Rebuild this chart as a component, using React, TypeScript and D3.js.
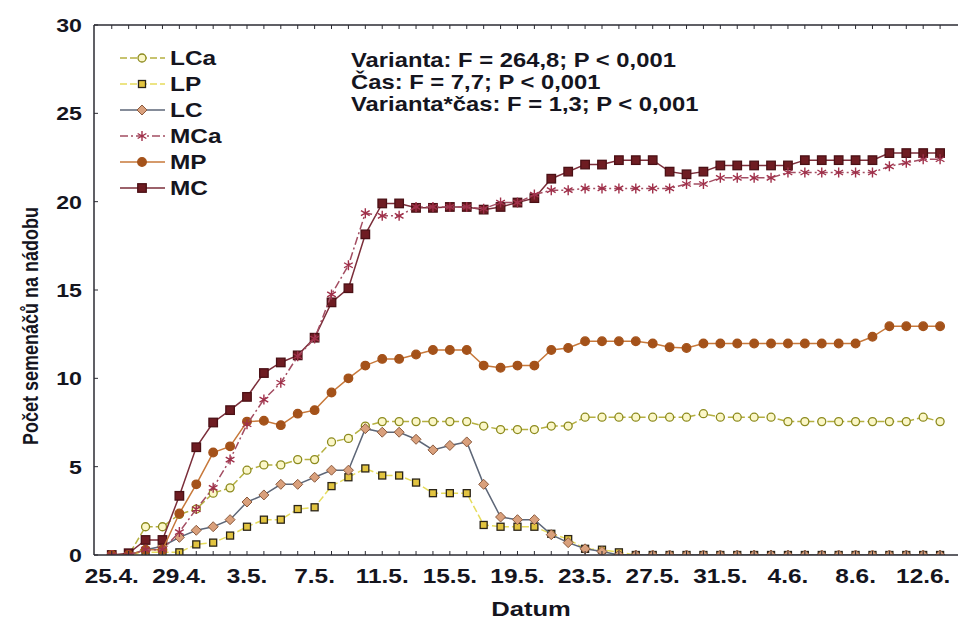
import React, { useEffect, useRef } from 'react';
import * as d3 from 'd3';

// daily observations, 25.4. - 13.6.
const dates = [
  '25.4.', '26.4.', '27.4.', '28.4.', '29.4.', '30.4.', '1.5.', '2.5.', '3.5.', '4.5.',
  '5.5.', '6.5.', '7.5.', '8.5.', '9.5.', '10.5.', '11.5.', '12.5.', '13.5.', '14.5.',
  '15.5.', '16.5.', '17.5.', '18.5.', '19.5.', '20.5.', '21.5.', '22.5.', '23.5.', '24.5.',
  '25.5.', '26.5.', '27.5.', '28.5.', '29.5.', '30.5.', '31.5.', '1.6.', '2.6.', '3.6.',
  '4.6.', '5.6.', '6.6.', '7.6.', '8.6.', '9.6.', '10.6.', '11.6.', '12.6.', '13.6.',
];
const tickDates = ['25.4.', '29.4.', '3.5.', '7.5.', '11.5.', '15.5.', '19.5.', '23.5.', '27.5.', '31.5.', '4.6.', '8.6.', '12.6.'];
const yTicks = [0, 5, 10, 15, 20, 25, 30];

const LCa = [0, 0, 1.6, 1.6, 2.3, 2.6, 3.5, 3.8, 4.8, 5.1, 5.1, 5.4, 5.4, 6.4, 6.6, 7.3, 7.55, 7.55, 7.55, 7.55,
  7.55, 7.55, 7.3, 7.1, 7.1, 7.1, 7.3, 7.3, 7.8, 7.8, 7.8, 7.8, 7.8, 7.8, 7.8, 8.0, 7.8, 7.8, 7.8, 7.8,
  7.55, 7.55, 7.55, 7.55, 7.55, 7.55, 7.55, 7.55, 7.8, 7.55];
const LP = [0, 0, 0.15, 0.15, 0.15, 0.6, 0.7, 1.1, 1.6, 2.0, 2.0, 2.6, 2.7, 3.9, 4.4, 4.9, 4.5, 4.5, 4.1, 3.5,
  3.5, 3.5, 1.7, 1.6, 1.6, 1.6, 1.2, 0.9, 0.35, 0.3, 0.15, 0, 0, 0, 0, 0, 0, 0, 0, 0,
  0, 0, 0, 0, 0, 0, 0, 0, 0, 0];
const LC = [0, 0, 0.3, 0.5, 1.0, 1.4, 1.6, 2.0, 3.0, 3.4, 4.0, 4.0, 4.4, 4.8, 4.8, 7.15, 6.95, 6.95, 6.55, 5.95,
  6.2, 6.4, 4.0, 2.15, 2.0, 2.0, 1.15, 0.7, 0.35, 0.2, 0, 0, 0, 0, 0, 0, 0, 0, 0, 0,
  0, 0, 0, 0, 0, 0, 0, 0, 0, 0];
const MCa = [0, 0, 0.3, 0.3, 1.3, 2.6, 3.8, 5.4, 7.4, 8.8, 9.75, 11.25, 12.25, 14.75, 16.4, 19.35, 19.2, 19.2, 19.7, 19.7,
  19.7, 19.7, 19.6, 19.95, 19.95, 20.4, 20.65, 20.65, 20.75, 20.75, 20.75, 20.75, 20.75, 20.75, 21.0, 21.0, 21.35, 21.35, 21.35, 21.35,
  21.65, 21.65, 21.65, 21.65, 21.65, 21.65, 22.0, 22.2, 22.4, 22.4];
const MP = [0, 0, 0.3, 0.3, 2.35, 4.0, 5.8, 6.15, 7.55, 7.6, 7.35, 8.0, 8.2, 9.2, 10.0, 10.72, 11.1, 11.1, 11.35, 11.6,
  11.6, 11.6, 10.72, 10.6, 10.72, 10.72, 11.6, 11.72, 12.1, 12.1, 12.1, 12.1, 11.97, 11.76, 11.72, 11.97, 11.97, 11.97, 11.97, 11.97,
  11.97, 11.97, 11.97, 11.97, 11.97, 12.35, 12.95, 12.95, 12.95, 12.95];
const MC = [0, 0.1, 0.85, 0.85, 3.35, 6.1, 7.5, 8.2, 8.95, 10.3, 10.9, 11.3, 12.3, 14.3, 15.1, 18.15, 19.9, 19.9, 19.65, 19.65,
  19.7, 19.7, 19.55, 19.7, 19.95, 20.2, 21.3, 21.7, 22.1, 22.1, 22.35, 22.35, 22.35, 21.7, 21.55, 21.7, 22.05, 22.05, 22.05, 22.05,
  22.05, 22.35, 22.35, 22.35, 22.35, 22.35, 22.75, 22.75, 22.75, 22.75];

const legendNames = ['LCa', 'LP', 'LC', 'MCa', 'MP', 'MC'];
const statLines = [
  'Varianta: F = 264,8; P < 0,001',
  'Čas: F = 7,7; P < 0,001',
  'Varianta*čas: F = 1,3; P < 0,001',
];

const styles: any = {
  LCa: { data: LCa, line: '#b5b040', dash: '7,3', sym: 'circle', fill: '#fbf7c8', stroke: '#8c8a1e', size: 4 },
  LP: { data: LP, line: '#e6dc5c', dash: '7,3', sym: 'square', fill: '#e2c440', stroke: '#2a2418', size: 7 },
  LC: { data: LC, line: '#5d6677', dash: null, sym: 'diamond', fill: '#d9a07c', stroke: '#8a5a3e', size: 5 },
  MCa: { data: MCa, line: '#a34d62', dash: '8,3,2,3', sym: 'asterisk', fill: 'none', stroke: '#a0304a', size: 5 },
  MP: { data: MP, line: '#c7783a', dash: null, sym: 'circle', fill: '#a4521a', stroke: '#a4521a', size: 4.3 },
  MC: { data: MC, line: '#7b2e3a', dash: null, sym: 'square', fill: '#6e1c22', stroke: '#4a1015', size: 8.5 },
};
const drawOrder = ['LCa', 'LP', 'LC', 'MC', 'MP', 'MCa'];

const SX = 1.22; // horizontal stretch of the lettering

function drawMarker(g: any, sym: string, x: number, y: number, st: any) {
  if (sym === 'circle') {
    g.append('circle').attr('cx', x).attr('cy', y).attr('r', st.size)
      .attr('fill', st.fill).attr('stroke', st.stroke).attr('stroke-width', 1.3);
  } else if (sym === 'square') {
    const s = st.size;
    g.append('rect').attr('x', x - s / 2).attr('y', y - s / 2).attr('width', s).attr('height', s)
      .attr('fill', st.fill).attr('stroke', st.stroke).attr('stroke-width', 1.3);
  } else if (sym === 'diamond') {
    const s = st.size;
    g.append('path').attr('d', `M${x},${y - s}L${x + s},${y}L${x},${y + s}L${x - s},${y}Z`)
      .attr('fill', st.fill).attr('stroke', st.stroke).attr('stroke-width', 1);
  } else {
    const s = st.size;
    const a = s * 0.87, b = s * 0.5;
    g.append('path')
      .attr('d', `M${x},${y - s}L${x},${y + s}M${x - a},${y - b}L${x + a},${y + b}M${x - a},${y + b}L${x + a},${y - b}`)
      .attr('fill', 'none').attr('stroke', st.stroke).attr('stroke-width', 1.4);
  }
}

export default function App() {
  const ref = useRef<SVGSVGElement>(null);

  useEffect(() => {
    const svg = d3.select(ref.current);
    svg.selectAll('*').remove();

    const left = 94, right = 958, top = 25, bottom = 555;
    const x = d3.scaleLinear().domain([-1.05, 50]).range([left, 957]);
    const y = d3.scaleLinear().domain([0, 30]).range([bottom, top]);
    const font = 'Liberation Sans, Arial, sans-serif';

    const text = (tx: number, ty: number, s: string, size: number, anchor: string, extra = '') =>
      svg.append('text')
        .attr('transform', `translate(${tx},${ty}) scale(${SX},1)${extra}`)
        .attr('text-anchor', anchor)
        .attr('font-family', font)
        .attr('font-weight', 'bold')
        .attr('font-size', size)
        .attr('fill', '#15151e')
        .text(s);

    svg.append('defs').append('clipPath').attr('id', 'plotclip')
      .append('rect').attr('x', left).attr('y', top).attr('width', right - left).attr('height', bottom - top);

    const plot = svg.append('g').attr('clip-path', 'url(#plotclip)');

    drawOrder.forEach((name) => {
      const st = styles[name];
      const line = d3.line<number>().x((_, i) => x(i)).y((d) => y(d));
      plot.append('path')
        .datum(st.data)
        .attr('d', line)
        .attr('fill', 'none')
        .attr('stroke', st.line)
        .attr('stroke-width', 1.5)
        .attr('stroke-dasharray', st.dash);
      const mg = plot.append('g');
      st.data.forEach((v: number, i: number) => drawMarker(mg, st.sym, x(i), y(v), st));
    });

    // frame and ticks
    const axis = svg.append('g').attr('stroke', '#2b2b33').attr('stroke-width', 1.5);
    axis.append('line').attr('x1', left).attr('x2', left).attr('y1', top).attr('y2', bottom);
    axis.append('line').attr('x1', left).attr('x2', right).attr('y1', top).attr('y2', top);
    axis.append('line').attr('x1', left).attr('x2', right).attr('y1', bottom).attr('y2', bottom);
    dates.forEach((_, i) => {
      axis.append('line').attr('x1', x(i)).attr('x2', x(i)).attr('y1', bottom).attr('y2', bottom - 4).attr('stroke-width', 1);
      axis.append('line').attr('x1', x(i)).attr('x2', x(i)).attr('y1', top).attr('y2', top + 4).attr('stroke-width', 1);
    });
    yTicks.forEach((t) => {
      axis.append('line').attr('x1', left).attr('x2', left + 4).attr('y1', y(t)).attr('y2', y(t)).attr('stroke-width', 1);
    });

    yTicks.forEach((t) => text(82, y(t) + 7, String(t), 19, 'end'));
    tickDates.forEach((d) => text(x(dates.indexOf(d)), 583, d, 20, 'middle'));

    text(531, 616, 'Datum', 21, 'middle');
    text(38, 326, 'Počet semenáčů na nádobu', 18, 'middle', ' rotate(-90)');

    // legend
    legendNames.forEach((name, i) => {
      const st = styles[name];
      const cy = 58 + i * 26;
      svg.append('line').attr('x1', 120).attr('x2', 165).attr('y1', cy).attr('y2', cy)
        .attr('stroke', st.line).attr('stroke-width', 1.5).attr('stroke-dasharray', st.dash);
      drawMarker(svg.append('g'), st.sym, 142, cy, st);
      text(170, cy + 7, name, 20, 'start');
    });

    statLines.forEach((s, i) => text(351, 67 + i * 22, s, 19.5, 'start'));
  }, []);

  return (
    <svg ref={ref} width={958} height={622}
      style={{ position: 'absolute', left: 0, top: 0, background: '#fff' }} />
  );
}
